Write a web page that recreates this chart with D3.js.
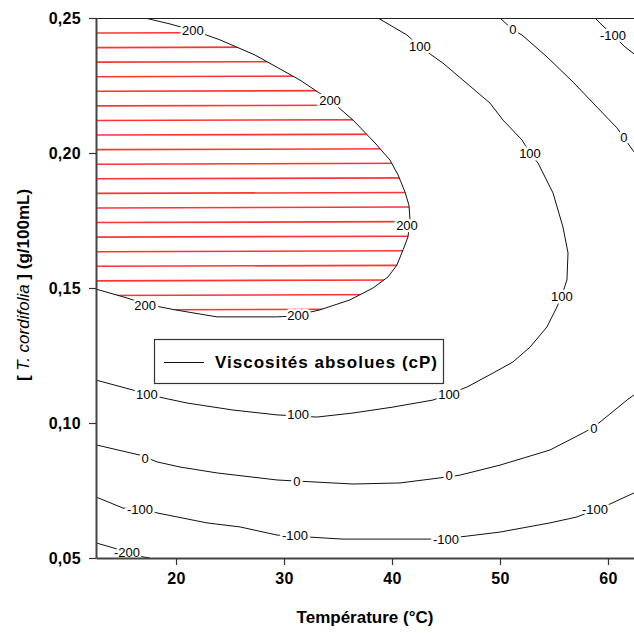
<!DOCTYPE html>
<html><head><meta charset="utf-8">
<script src="https://cdn.jsdelivr.net/npm/d3@7"></script>
<style>body{margin:0;background:#fff}svg{display:block}</style>
</head><body>
<script>
// ---- data ----
const xTicks = [20, 30, 40, 50, 60];
const yTicks = [0.05, 0.10, 0.15, 0.20, 0.25];
const xDomain = [12.59, 62.41];
const yDomain = [0.05, 0.25];
const levels = [200, 100, 0, -100, -200];

// contour 200 (closed against the left & top edges; hatched region > 200)
const c200 = [[12.59,0.1496],[15.46,0.1463],[17.13,0.1441],[19.91,0.1419],[23.80,0.1393],[29.35,0.1393],[30.83,0.1396],
  [33.33,0.1419],[36.11,0.1456],[38.24,0.1500],[39.63,0.1541],[40.46,0.1585],[41.02,0.1641],[41.48,0.1689],[41.67,0.1752],
  [41.57,0.1807],[41.20,0.1856],[40.56,0.1919],[39.81,0.1974],[38.43,0.2037],[36.39,0.2122],[34.26,0.2196],[31.48,0.2270],
  [27.31,0.2363],[24.07,0.2419],[21.76,0.2452],[19.44,0.2478],[17.13,0.2500]];
const c100 = [[12.59,0.1159],[16.02,0.1122],[17.31,0.1107],[18.80,0.1093],[21.02,0.1074],[25.28,0.1048],[29.35,0.1030],
  [33.06,0.1022],[36.39,0.1037],[40.09,0.1059],[43.80,0.1085],[46.94,0.1133],[49.35,0.1185],[51.20,0.1226],[52.78,0.1281],
  [54.35,0.1356],[55.28,0.1430],[55.74,0.1474],[56.20,0.1530],[56.30,0.1630],[55.83,0.1726],[54.91,0.1852],[53.52,0.1963],
  [52.78,0.2000],[52.04,0.2048],[50.28,0.2122],[49.07,0.2185],[46.57,0.2270],[44.72,0.2333],[42.59,0.2393],[41.39,0.2437],
  [38.70,0.2500]];
const c0Upper = [[50.00,0.2500],[51.20,0.2456],[52.04,0.2437],[54.35,0.2356],[56.76,0.2263],[58.98,0.2170],[60.83,0.2093],
  [61.48,0.2056],[62.41,0.2004]];
const cM100Upper = [[58.80,0.2500],[59.44,0.2474],[60.46,0.2437],[61.57,0.2393],[62.41,0.2367]];
const c0Lower = [[12.59,0.0919],[16.67,0.0881],[18.24,0.0856],[20.37,0.0837],[23.80,0.0815],[29.35,0.0789],[31.20,0.0785],
  [36.39,0.0774],[40.74,0.0778],[45.09,0.0800],[46.30,0.0807],[50.00,0.0844],[54.63,0.0900],[57.69,0.0963],[58.70,0.0985],
  [61.76,0.1085],[62.41,0.1104]];
const cM100Lower = [[12.59,0.0726],[15.09,0.0685],[16.67,0.0681],[18.24,0.0667],[22.87,0.0630],[25.93,0.0615],[29.35,0.0585],
  [32.13,0.0578],[35.46,0.0570],[43.52,0.0570],[46.30,0.0578],[50.00,0.0596],[54.63,0.0630],[57.13,0.0652],[58.80,0.0678],
  [60.19,0.0700],[62.41,0.0741]];
const cM200 = [[12.59,0.0556],[13.89,0.0541],[15.46,0.0522],[16.94,0.0504],[17.59,0.0500]];

const contourLines = [
  {level: 200, pts: c200}, {level: 100, pts: c100}, {level: 0, pts: c0Upper}, {level: 0, pts: c0Lower},
  {level: -100, pts: cM100Upper}, {level: -100, pts: cM100Lower}, {level: -200, pts: cM200}
];

const labels200 = [[21.57,0.2452],[34.26,0.2196],[41.39,0.1730],[31.30,0.1400],[17.13,0.1437]];
const labels100 = [[42.59,0.2393],[52.78,0.2000],[55.74,0.1467],[45.28,0.1104],[31.30,0.1030],[17.31,0.1107]];
const labels0 = [[51.20,0.2456],[61.48,0.2056],[17.13,0.0870],[31.20,0.0785],[45.28,0.0804],[58.70,0.0981]];
const labelsM100 = [[60.46,0.2437],[16.67,0.0681],[31.02,0.0585],[45.00,0.0570],[58.80,0.0678]];
const labelsM200 = [[15.46,0.0522]];
const contourLabels = [
  {level: 200, pos: labels200}, {level: 100, pos: labels100}, {level: 0, pos: labels0},
  {level: -100, pos: labelsM100}, {level: -200, pos: labelsM200}
];

const legendText = "Viscosités absolues (cP)";
const xTitle = "Température (°C)";

// ---- drawing ----
const W = 634, H = 633;
const M = {left: 96, top: 18, right: 634, bottom: 558};
const x = d3.scaleLinear().domain(xDomain).range([M.left, M.right]);
const y = d3.scaleLinear().domain(yDomain).range([M.bottom, M.top]);
const font = "'Liberation Sans', Arial, sans-serif";

const svg = d3.select("body").append("svg").attr("width", W).attr("height", H)
  .style("font-family", font);
const defs = svg.append("defs");
defs.append("clipPath").attr("id", "plotClip").append("rect")
  .attr("x", M.left).attr("y", M.top).attr("width", M.right - M.left).attr("height", M.bottom - M.top);

const line = d3.line().x(d => x(d[0])).y(d => y(d[1]));
// hatched region (value > 200): 200-contour closed by the top-left corner of the domain
const region = c200.concat([[xDomain[0], yDomain[1]]]);
defs.append("clipPath").attr("id", "hatchClip").append("path")
  .attr("d", line(region) + "Z");

const plot = svg.append("g").attr("clip-path", "url(#plotClip)");

// red hatching
const hatch = plot.append("g").attr("clip-path", "url(#hatchClip)");
const hatchYs = d3.range(M.top + 15, M.bottom, 14.58);
hatch.selectAll("line").data(hatchYs).join("line")
  .attr("x1", M.left + 1).attr("x2", x(45)).attr("y1", d => d).attr("y2", d => d - 1)
  .attr("stroke", "#ff3535").attr("stroke-width", 1.6);

// contour lines
plot.selectAll("path.contour").data(contourLines).join("path")
  .attr("class", "contour").attr("d", d => line(d.pts))
  .attr("fill", "none").attr("stroke", "#111").attr("stroke-width", 1);

// contour labels
const labelData = contourLabels.flatMap(c => c.pos.map(p => ({level: c.level, p})));
plot.selectAll("text.clabel").data(labelData).join("text")
  .attr("class", "clabel")
  .attr("x", d => x(d.p[0])).attr("y", d => y(d.p[1]) + 4.5)
  .attr("text-anchor", "middle")
  .attr("font-size", 13)
  .attr("fill", "#000")
  .attr("stroke", "#fff").attr("stroke-width", 5).attr("paint-order", "stroke")
  .text(d => String(d.level));

// frame: top line
svg.append("line").attr("x1", M.left).attr("x2", M.right).attr("y1", M.top + 0.5).attr("y2", M.top + 0.5)
  .attr("stroke", "#222").attr("stroke-width", 1.2);

// axes
const fmtY = d => d3.format(".2f")(d).replace(".", ",");
const yAxis = svg.append("g").attr("transform", `translate(${M.left},0)`)
  .call(d3.axisLeft(y).tickValues(yTicks).tickFormat(fmtY).tickSize(7).tickSizeOuter(0).tickPadding(8));
const xAxis = svg.append("g").attr("transform", `translate(0,${M.bottom})`)
  .call(d3.axisBottom(x).tickValues(xTicks).tickFormat(d3.format("d")).tickSize(7).tickSizeOuter(0).tickPadding(8));
[yAxis, xAxis].forEach(a => {
  a.select(".domain").attr("stroke", "#444").attr("stroke-width", 2);
  a.selectAll(".tick line").attr("stroke", "#333").attr("stroke-width", 1.2);
  a.selectAll(".tick text").attr("fill", "#000").attr("font-size", 16).attr("font-weight", "bold")
    .attr("font-family", font).attr("letter-spacing", "0.3px");
});

// axis titles
svg.append("text").attr("x", 365).attr("y", 623).attr("text-anchor", "middle")
  .attr("font-size", 17).attr("font-weight", "bold").attr("fill", "#000").text(xTitle);

const yt = svg.append("text").attr("transform", "translate(29,285) rotate(-90)")
  .attr("text-anchor", "middle").attr("font-size", 17).attr("font-weight", "bold").attr("fill", "#000");
yt.append("tspan").text("[ ");
yt.append("tspan").attr("font-style", "italic").attr("font-weight", "normal").text("T. cordifolia");
yt.append("tspan").text(" ] (g/100mL)");

// legend
const lg = svg.append("g");
lg.append("rect").attr("x", 154.5).attr("y", 339.5).attr("width", 289).attr("height", 44)
  .attr("fill", "#fff").attr("stroke", "#333").attr("stroke-width", 1.2);
lg.append("line").attr("x1", 164).attr("x2", 204).attr("y1", 362.5).attr("y2", 362.5)
  .attr("stroke", "#111").attr("stroke-width", 1);
lg.append("text").attr("x", 215).attr("y", 368).attr("font-size", 17).attr("font-weight", "bold")
  .attr("fill", "#000").attr("textLength", 222).attr("lengthAdjust", "spacing").text(legendText);
</script>
</body></html>
